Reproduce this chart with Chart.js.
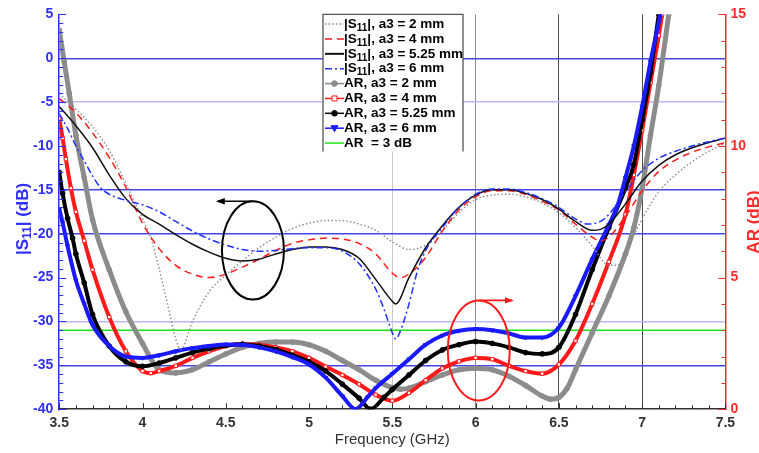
<!DOCTYPE html>
<html>
<head>
<meta charset="utf-8">
<script src="https://cdn.jsdelivr.net/npm/chart.js@4.4.1/dist/chart.umd.min.js"></script>
<style>
  html, body { margin: 0; padding: 0; background: #ffffff; }
  canvas { display: block; }
</style>
</head>
<body>
<canvas id="c" width="759" height="453"></canvas>
<script>
// ---- |S11| (dB) for each a3 value ----
const fS11_2  = [3.5,3.6,3.7,3.8,3.9,4.0,4.05,4.1,4.15,4.2,4.23,4.3,4.4,4.5,4.6,4.7,4.8,4.9,5.0,5.1,5.2,5.3,5.4,5.5,5.6,5.7,5.8,5.9,6.0,6.1,6.2,6.3,6.4,6.5,6.6,6.7,6.8,6.85,6.9,7.0,7.1,7.2,7.3,7.4,7.5];
const s11_2   = [-4.0,-5.8,-7.8,-10.5,-14.3,-18.3,-20.5,-24.0,-28.0,-32.0,-33.2,-30.0,-26.6,-24.7,-23.1,-21.6,-20.4,-19.4,-18.8,-18.5,-18.5,-18.9,-19.6,-20.9,-21.8,-21.3,-19.6,-17.6,-16.1,-15.6,-15.5,-15.8,-16.5,-17.6,-19.3,-21.4,-23.6,-23.6,-22.0,-18.3,-15.2,-13.3,-11.8,-10.6,-9.7];

const fS11_4  = [3.5,3.6,3.7,3.8,3.9,4.0,4.1,4.2,4.3,4.4,4.5,4.6,4.7,4.8,4.9,5.0,5.1,5.2,5.3,5.4,5.5,5.55,5.6,5.7,5.8,5.9,6.0,6.1,6.2,6.3,6.4,6.5,6.6,6.7,6.75,6.8,6.9,7.0,7.1,7.2,7.3,7.4,7.5];
const s11_4   = [-4.6,-6.2,-8.5,-11.3,-14.7,-18.8,-21.7,-23.6,-24.6,-25.0,-24.6,-23.8,-22.9,-21.9,-21.1,-20.7,-20.5,-20.6,-21.1,-22.3,-24.5,-25.0,-24.6,-22.7,-19.7,-17.3,-15.8,-15.1,-15.1,-15.5,-16.3,-17.3,-18.9,-20.4,-20.8,-20.4,-18.0,-15.1,-12.9,-11.6,-10.7,-10.1,-9.6];

const fS11_525 = [3.5,3.6,3.7,3.8,3.9,4.0,4.1,4.2,4.3,4.4,4.5,4.6,4.7,4.8,4.9,5.0,5.1,5.2,5.3,5.4,5.5,5.52,5.6,5.7,5.8,5.9,6.0,6.1,6.2,6.3,6.4,6.5,6.6,6.7,6.75,6.8,6.9,7.0,7.1,7.2,7.3,7.4,7.5];
const s11_525  = [-5.5,-7.7,-10.2,-13.3,-16.0,-17.8,-18.9,-20.1,-21.2,-22.1,-22.8,-23.1,-22.9,-22.3,-21.8,-21.5,-21.5,-21.8,-22.8,-25.2,-27.7,-28.0,-25.0,-21.6,-19.1,-17.0,-15.6,-15.0,-15.0,-15.4,-16.1,-17.2,-18.6,-19.6,-19.5,-18.9,-16.6,-14.0,-12.2,-11.0,-10.2,-9.6,-9.1];

const fS11_6  = [3.5,3.55,3.6,3.65,3.7,3.75,3.8,3.9,4.0,4.1,4.2,4.3,4.4,4.5,4.6,4.7,4.8,4.9,5.0,5.1,5.2,5.3,5.4,5.45,5.5,5.52,5.55,5.6,5.65,5.7,5.8,5.9,6.0,6.1,6.2,6.3,6.4,6.5,6.6,6.67,6.75,6.8,6.9,7.0,7.1,7.2,7.3,7.4,7.5];
const s11_6   = [-6.3,-8.0,-10.0,-11.7,-13.4,-14.8,-15.5,-16.2,-16.7,-17.5,-18.6,-19.7,-20.6,-21.3,-21.8,-22.0,-21.9,-21.7,-21.6,-21.6,-22.0,-23.4,-26.3,-28.6,-31.3,-32.0,-31.0,-28.0,-24.3,-21.9,-19.3,-17.0,-15.5,-14.9,-14.9,-15.3,-16.0,-17.0,-18.3,-18.9,-18.6,-17.8,-15.2,-12.8,-11.4,-10.6,-10.0,-9.5,-9.1];

// ---- Axial ratio AR (dB) for each a3 value ----
const fAR_2   = [3.5,3.53,3.56,3.6,3.65,3.7,3.8,3.9,4.0,4.1,4.2,4.3,4.4,4.5,4.6,4.7,4.8,4.9,5.0,5.1,5.2,5.3,5.4,5.5,5.55,5.6,5.7,5.8,5.9,6.0,6.1,6.2,6.3,6.4,6.45,6.5,6.55,6.6,6.7,6.8,6.9,6.95,7.0,7.05,7.1,7.16];
const ar_2    = [14.4,13.2,12.0,10.4,8.8,7.2,5.3,3.7,2.5,1.5,1.38,1.5,1.8,2.1,2.35,2.5,2.55,2.55,2.45,2.2,1.85,1.5,1.1,0.82,0.76,0.8,1.05,1.3,1.5,1.56,1.5,1.25,0.9,0.5,0.38,0.45,0.8,1.5,2.9,4.3,5.9,6.9,8.4,10.4,12.3,15.0];

const fAR_4   = [3.5,3.52,3.54,3.57,3.6,3.65,3.7,3.8,3.9,4.0,4.05,4.1,4.2,4.3,4.4,4.5,4.6,4.7,4.8,4.9,5.0,5.1,5.2,5.3,5.4,5.5,5.6,5.7,5.8,5.9,6.0,6.1,6.2,6.3,6.4,6.5,6.6,6.7,6.8,6.9,6.95,7.0,7.05,7.1,7.12];
const ar_4    = [11.05,10.3,9.5,8.4,7.5,6.4,5.3,3.5,2.2,1.45,1.37,1.45,1.65,1.95,2.2,2.4,2.48,2.45,2.35,2.2,1.95,1.62,1.3,0.95,0.55,0.32,0.62,1.1,1.55,1.82,1.95,1.9,1.65,1.45,1.35,1.7,2.6,4.0,5.6,7.4,8.9,10.6,12.4,14.2,15.0];

const fAR_525 = [3.5,3.52,3.55,3.58,3.6,3.65,3.7,3.8,3.9,4.0,4.1,4.2,4.3,4.4,4.5,4.6,4.7,4.8,4.9,5.0,5.1,5.2,5.3,5.37,5.45,5.5,5.6,5.7,5.8,5.9,6.0,6.1,6.2,6.3,6.4,6.5,6.6,6.7,6.8,6.9,6.95,7.0,7.05,7.1];
const ar_525  = [9.0,8.2,7.25,6.5,5.9,4.8,3.6,2.4,1.8,1.63,1.75,1.95,2.15,2.3,2.42,2.47,2.4,2.27,2.05,1.8,1.45,0.95,0.42,0.0,0.45,0.75,1.3,1.85,2.25,2.45,2.57,2.5,2.35,2.15,2.1,2.35,3.6,5.3,6.9,8.4,9.3,11.0,12.8,15.0];

const fAR_6   = [3.5,3.52,3.55,3.6,3.65,3.7,3.8,3.9,4.0,4.1,4.2,4.3,4.4,4.5,4.6,4.7,4.8,4.9,5.0,5.1,5.2,5.28,5.35,5.4,5.5,5.6,5.7,5.8,5.9,6.0,6.1,6.2,6.3,6.4,6.5,6.6,6.7,6.8,6.85,6.9,6.95,7.0,7.05,7.11];
const ar_6    = [7.6,7.1,6.2,4.9,4.0,3.2,2.4,2.0,1.95,2.05,2.2,2.32,2.4,2.46,2.45,2.35,2.2,1.98,1.7,1.2,0.5,0.0,0.45,0.8,1.35,1.9,2.45,2.8,2.98,3.05,3.0,2.88,2.72,2.72,3.1,4.3,5.7,7.0,7.7,8.8,10.0,11.5,13.2,15.0];

// 3 dB axial-ratio limit
const fLimit  = [3.5, 7.5];
const arLimit = [3, 3];

// ---- axes ----
const freqRange = [3.5, 7.5];
const s11Range  = [-40, 5];
const arRange   = [0, 15];

// legend texts
const legendSuffix = ['a3 = 2 mm', 'a3 = 4 mm', 'a3 = 5.25 mm', 'a3 = 6 mm'];
const limitLabel = 'AR  = 3 dB';
const xTitle = 'Frequency (GHz)';

// annotation ellipses with direction arrows: [centre f, centre dB, half-width GHz, half-height dB, arrow end f, colour]
const markEllipses = [
  [4.663, -21.9, 0.186, 5.6, 4.44, '#000000'],
  [6.019, -33.3, 0.186, 5.7, 6.23, '#ff1a1a']
];

const FONT = "'Liberation Sans', Arial, Helvetica, sans-serif";
const BLUE = '#2f2fff';
const RED = '#ff2a2a';
const GREY_T = '#333333';

const pairs = (f, v) => f.map((x, i) => ({ x: x, y: v[i] }));

const s11Style = [
  { color: '#8a8a8a', dash: [1.5, 2.2], width: 1.4 },
  { color: '#ff1a1a', dash: [7, 5], width: 1.5 },
  { color: '#111111', dash: [], width: 1.5 },
  { color: '#1f2fff', dash: [7, 3, 2, 3], width: 1.5 }
];
const arStyle = [
  { color: '#8c8c8c', point: 'circle', fill: '#8c8c8c', width: 5 },
  { color: '#ff1a1a', point: 'rect', fill: '#ffffff', width: 4 },
  { color: '#000000', point: 'circle', fill: '#000000', width: 4 },
  { color: '#1a1aff', point: 'triangle', fill: '#1a1aff', width: 4 }
];

const s11Sets = [[fS11_2, s11_2], [fS11_4, s11_4], [fS11_525, s11_525], [fS11_6, s11_6]];
const arSets  = [[fAR_2, ar_2], [fAR_4, ar_4], [fAR_525, ar_525], [fAR_6, ar_6]];

const datasets = [];
datasets.push({
  label: limitLabel, yAxisID: 'y2', data: pairs(fLimit, arLimit),
  borderColor: '#19e619', borderWidth: 1.5, pointRadius: 0, order: 9
});
arSets.forEach((s, i) => {
  const st = arStyle[i];
  datasets.push({
    label: 'AR, ' + legendSuffix[i], yAxisID: 'y2', data: pairs(s[0], s[1]),
    borderColor: st.color, borderWidth: st.width, cubicInterpolationMode: 'monotone',
    pointStyle: st.point, pointRadius: 2.4, pointRotation: st.point === 'triangle' ? 180 : 0,
    pointBackgroundColor: st.fill, pointBorderColor: st.color, pointBorderWidth: 1,
    order: 8 - i
  });
});
s11Sets.forEach((s, i) => {
  const st = s11Style[i];
  datasets.push({
    label: '|S11|, ' + legendSuffix[i], yAxisID: 'y', data: pairs(s[0], s[1]),
    borderColor: st.color, borderWidth: st.width, borderDash: st.dash,
    cubicInterpolationMode: 'monotone', pointRadius: 0, order: 4 - i
  });
});

// horizontal reference lines on the |S11| axis
function yGridColor(v) {
  const k = Math.round(v);
  if (k === 0 || k === -15 || k === -20 || k === -35) return '#4646e6';
  if (k === -5 || k === -30) return '#b9b9f5';
  return 'rgba(0,0,0,0)';
}
// vertical reference lines on the frequency axis
function xGridColor(v) {
  const k = Math.round(v * 10);
  if (k === 55) return '#c8c8c8';
  if (k === 60) return '#8a8a8a';
  if (k === 65 || k === 70) return '#4a4a4a';
  return 'rgba(0,0,0,0)';
}

// inward major/minor tick marks on the three axes
const axisTicks = {
  id: 'axisTicks',
  afterDatasetsDraw(chart) {
    const { ctx, chartArea: a, scales } = chart;
    ctx.save();
    ctx.lineWidth = 1;
    ctx.strokeStyle = BLUE;
    for (let v = s11Range[0]; v <= s11Range[1]; v++) {
      const py = Math.round(scales.y.getPixelForValue(v)) + 0.5;
      const len = v % 5 === 0 ? 7 : 4;
      ctx.beginPath(); ctx.moveTo(a.left, py); ctx.lineTo(a.left + len, py); ctx.stroke();
    }
    ctx.strokeStyle = RED;
    for (let v = arRange[0]; v <= arRange[1]; v++) {
      const py = Math.round(scales.y2.getPixelForValue(v)) + 0.5;
      const len = v % 5 === 0 ? 7 : 4;
      ctx.beginPath(); ctx.moveTo(a.right, py); ctx.lineTo(a.right - len, py); ctx.stroke();
    }
    ctx.strokeStyle = GREY_T;
    for (let i = 0; i <= 40; i++) {
      const px = Math.round(scales.x.getPixelForValue(freqRange[0] + i * 0.1)) + 0.5;
      const len = i % 5 === 0 ? 6 : 4;
      ctx.beginPath(); ctx.moveTo(px, a.bottom); ctx.lineTo(px, a.bottom - len); ctx.stroke();
    }
    ctx.restore();
  }
};

// ellipses with arrows that point to the axis each curve family belongs to
const ellipseMarks = {
  id: 'ellipseMarks',
  afterDatasetsDraw(chart) {
    const { ctx, scales: { x, y } } = chart;
    ctx.save();
    markEllipses.forEach(m => {
      const cx = x.getPixelForValue(m[0]);
      const cy = y.getPixelForValue(m[1]);
      const rx = Math.abs(x.getPixelForValue(m[0] + m[2]) - cx);
      const ry = Math.abs(y.getPixelForValue(m[1] + m[3]) - cy);
      ctx.strokeStyle = m[5];
      ctx.lineWidth = 2;
      ctx.beginPath(); ctx.ellipse(cx, cy, rx, ry, 0, 0, Math.PI * 2); ctx.stroke();
      const topY = cy - ry;
      const ex = x.getPixelForValue(m[4]);
      const dir = ex < cx ? -1 : 1;
      ctx.lineWidth = 1.6;
      ctx.beginPath(); ctx.moveTo(cx, topY); ctx.lineTo(ex - dir * 2, topY); ctx.stroke();
      ctx.fillStyle = m[5];
      ctx.beginPath();
      ctx.moveTo(ex, topY);
      ctx.lineTo(ex - dir * 9, topY - 3.2);
      ctx.lineTo(ex - dir * 9, topY + 3.2);
      ctx.closePath(); ctx.fill();
    });
    ctx.restore();
  }
};

// text with a "11" subscript after "|S"
function drawS11(ctx, x, y, size, subSize, tail) {
  ctx.font = 'bold ' + size + 'px ' + FONT;
  ctx.fillText('|S', x, y);
  let w = ctx.measureText('|S').width;
  ctx.font = 'bold ' + subSize + 'px ' + FONT;
  ctx.fillText('11', x + w, y + subSize * 0.4);
  w += ctx.measureText('11').width;
  ctx.font = 'bold ' + size + 'px ' + FONT;
  ctx.fillText(tail, x + w, y);
  return w + ctx.measureText(tail).width;
}
function measureS11(ctx, size, subSize, tail) {
  ctx.font = 'bold ' + size + 'px ' + FONT;
  let w = ctx.measureText('|S').width + ctx.measureText(tail).width;
  ctx.font = 'bold ' + subSize + 'px ' + FONT;
  return w + ctx.measureText('11').width;
}

// axis titles and the legend box
const decorations = {
  id: 'decorations',
  afterDraw(chart) {
    const { ctx, chartArea: a } = chart;
    ctx.save();
    ctx.textBaseline = 'middle';
    // bottom title
    ctx.fillStyle = GREY_T;
    ctx.font = '15px ' + FONT;
    ctx.textAlign = 'center';
    ctx.fillText(xTitle, (a.left + a.right) / 2, a.bottom + 31);
    ctx.textAlign = 'left';
    // left title
    ctx.save();
    ctx.translate(23, 219);
    ctx.rotate(-Math.PI / 2);
    ctx.fillStyle = BLUE;
    const tw = measureS11(ctx, 17, 12, '| (dB)');
    drawS11(ctx, -tw / 2, 0, 17, 12, '| (dB)');
    ctx.restore();
    // right title
    ctx.save();
    ctx.translate(754, 222);
    ctx.rotate(-Math.PI / 2);
    ctx.fillStyle = RED;
    ctx.font = 'bold 17px ' + FONT;
    ctx.textAlign = 'center';
    ctx.fillText('AR (dB)', 0, 0);
    ctx.restore();

    // legend
    const lx = 323, ly = a.top, lw = 140, lh = 137;
    ctx.fillStyle = '#ffffff';
    ctx.fillRect(lx, ly, lw, lh);
    ctx.strokeStyle = '#555555';
    ctx.lineWidth = 1.3;
    ctx.beginPath();
    ctx.moveTo(lx, ly + lh); ctx.lineTo(lx, ly); ctx.lineTo(lx + lw, ly); ctx.lineTo(lx + lw, ly + lh);
    ctx.stroke();

    const rowH = 14.87;
    const x0 = lx + 2, x1 = lx + 21, tx = lx + 21;
    for (let i = 0; i < 9; i++) {
      const ry = ly + 9.7 + i * rowH;
      ctx.save();
      if (i < 4) {
        const st = s11Style[i];
        ctx.strokeStyle = st.color; ctx.lineWidth = i === 2 ? 2 : 1.5;
        ctx.setLineDash(st.dash);
        ctx.beginPath(); ctx.moveTo(x0, ry); ctx.lineTo(x1, ry); ctx.stroke();
      } else if (i < 8) {
        const st = arStyle[i - 4];
        ctx.strokeStyle = st.color; ctx.lineWidth = 1.5;
        ctx.beginPath(); ctx.moveTo(x0, ry); ctx.lineTo(x1, ry); ctx.stroke();
        ctx.fillStyle = st.fill; ctx.lineWidth = 1;
        const mx = (x0 + x1) / 2;
        ctx.beginPath();
        if (st.point === 'rect') { ctx.rect(mx - 2.5, ry - 2.5, 5, 5); }
        else if (st.point === 'triangle') { ctx.moveTo(mx - 3.5, ry - 2.5); ctx.lineTo(mx + 3.5, ry - 2.5); ctx.lineTo(mx, ry + 3.5); ctx.closePath(); }
        else { ctx.arc(mx, ry, 2.8, 0, Math.PI * 2); }
        ctx.fill(); ctx.stroke();
      } else {
        ctx.strokeStyle = '#19e619'; ctx.lineWidth = 1.5;
        ctx.beginPath(); ctx.moveTo(x0, ry); ctx.lineTo(x1, ry); ctx.stroke();
      }
      ctx.restore();
      ctx.fillStyle = '#000000';
      ctx.textAlign = 'left';
      if (i < 4) {
        drawS11(ctx, tx, ry, 13.5, 10, '|, ' + legendSuffix[i]);
      } else {
        ctx.font = 'bold 13.5px ' + FONT;
        ctx.fillText(i < 8 ? 'AR, ' + legendSuffix[i - 4] : limitLabel, tx, ry);
      }
    }
    ctx.restore();
  }
};

new Chart(document.getElementById('c'), {
  type: 'line',
  data: { datasets: datasets },
  options: {
    responsive: false,
    animation: false,
    events: [],
    layout: { padding: { left: 27, right: 8, top: 5, bottom: 15 } },
    plugins: { legend: { display: false }, tooltip: { enabled: false } },
    scales: {
      x: {
        type: 'linear', min: freqRange[0], max: freqRange[1],
        ticks: {
          stepSize: 0.5, padding: 6, color: GREY_T,
          font: { family: FONT, size: 14, weight: 'bold' },
          callback: v => String(Math.round(v * 10) / 10)
        },
        grid: { drawTicks: false, color: c => c.tick ? xGridColor(c.tick.value) : 'rgba(0,0,0,0)', lineWidth: 1 },
        border: { color: GREY_T, width: 1.5 }
      },
      y: {
        position: 'left', min: s11Range[0], max: s11Range[1],
        ticks: { stepSize: 5, padding: 6, color: BLUE, font: { family: FONT, size: 14, weight: 'bold' } },
        grid: { drawTicks: false, color: c => c.tick ? yGridColor(c.tick.value) : 'rgba(0,0,0,0)', lineWidth: 1.4 },
        border: { color: BLUE, width: 1.5 }
      },
      y2: {
        position: 'right', min: arRange[0], max: arRange[1],
        ticks: { stepSize: 5, padding: 5, color: RED, font: { family: FONT, size: 14, weight: 'bold' } },
        grid: { display: false, drawTicks: false },
        border: { color: RED, width: 1.5 }
      }
    }
  },
  plugins: [axisTicks, ellipseMarks, decorations]
});
</script>
</body>
</html>
